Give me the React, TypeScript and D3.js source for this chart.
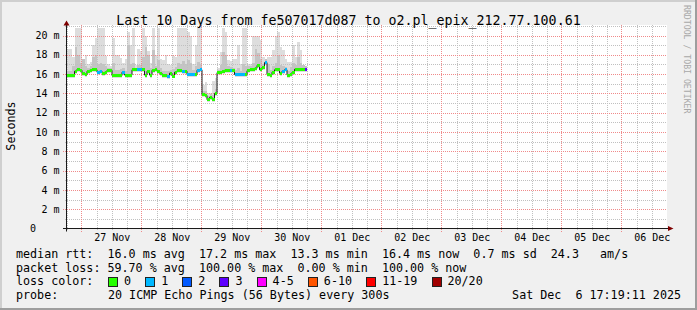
import React from 'react';
import * as d3 from 'd3';

const MONO = '"DejaVu Sans Mono", "Liberation Mono", monospace';

// hourly median RTT (ms) from the start of the 10-day window
const medianRtt = [
  15.88, 15.88, 15.9, 16.3, 16.5, 16.4, 16.1, 15.95, 16.3, 16.4,
  16.5, 16.45, 16.2, 16.3, 16.1, 16.2, 16.4, 16.4, 15.85, 15.85,
  15.85, 15.85, 16.2, 15.9, 15.9, 15.9, 16.45, 16.5, 16.5, 16.5,
  16.45, 15.9, 16.3, 15.9, 16.4, 16.45, 16.3, 16.1, 15.9, 15.9,
  15.75, 16.1, 15.8, 16.2, 16.35, 16.4, 16.25, 16.3, 15.95, 15.95,
  15.95, 15.95, 16.4, 16.45, 13.85, 13.8, 13.35, 13.6, 13.4, 14.0,
  16.15, 16.2, 16.3, 16.4, 16.4, 16.4, 16.35, 15.95, 15.95, 15.95,
  15.95, 15.95, 16.35, 16.45, 16.5, 16.6, 16.9, 16.45, 16.7, 17.2,
  15.95, 15.9, 16.2, 16.45, 16.45, 16.1, 16.3, 16.45, 15.9, 15.95,
  16.2, 16.5, 16.5, 16.5, 16.5, 16.5,
];

// loss category index per hour (into lossColors)
const lossIdx = [
  0, 0, 0, 0, 0, 0, 0, 0, 0, 0,
  0, 0, 1, 1, 0, 0, 0, 0, 0, 0,
  0, 0, 1, 0, 0, 0, 0, 0, 1, 1,
  0, 0, 0, 0, 0, 0, 0, 0, 0, 0,
  1, 0, 0, 0, 0, 0, 1, 0, 1, 1,
  1, 0, 1, 1, 0, 0, 0, 0, 0, 0,
  0, 0, 0, 0, 0, 1, 0, 1, 1, 1,
  1, 0, 0, 0, 0, 0, 0, 0, 0, 1,
  0, 0, 0, 0, 0, 0, 1, 1, 0, 0,
  0, 0, 0, 0, 0, 3,
];

// outer smoke (max ping) per hour
const smokeTop = [
  18.65, 18.65, 17.8, 20.75, 20.75, 20.75, 17.6, 18.0, 17.0, 17.3,
  19.0, 19.7, 20.75, 20.75, 20.75, 17.9, 17.0, 16.8, 19.7, 18.0,
  18.0, 17.7, 17.2, 17.6, 20.4, 19.0, 20.75, 16.9, 18.65, 18.4,
  20.75, 20.0, 18.4, 17.2, 20.75, 18.0, 20.75, 17.6, 17.5, 18.0,
  17.0, 16.9, 17.9, 17.8, 20.75, 20.75, 20.75, 20.75, 20.4, 20.0,
  17.0, 19.0, 20.8, 20.8, 14.9, 15.2, 14.0, 14.0, 15.3, 15.6,
  16.6, 18.3, 20.75, 20.4, 17.5, 17.4, 17.6, 17.6, 19.0, 17.0,
  20.75, 20.75, 17.1, 17.1, 20.0, 20.0, 20.0, 19.5, 17.8, 17.6,
  17.8, 17.8, 18.5, 20.0, 20.4, 18.8, 18.5, 17.6, 17.3, 17.3,
  19.0, 17.8, 19.3, 18.5, 16.8, 16.8,
];

// inner (denser) smoke per hour
const smokeMid = [
  16.3, 16.3, 16.8, 18.8, 18.0, 17.2, 17.6, 16.8, 16.6, 16.8,
  17.8, 18.0, 17.0, 17.2, 17.0, 16.8, 16.6, 16.6, 17.2, 16.4,
  16.4, 16.5, 16.6, 16.3, 19.0, 17.0, 17.2, 16.4, 16.9, 16.9,
  17.8, 18.8, 18.0, 16.6, 18.5, 16.8, 17.5, 16.6, 16.3, 16.3,
  16.3, 16.4, 16.5, 16.7, 17.2, 17.0, 17.4, 17.0, 17.5, 17.2,
  16.4, 16.8, 17.3, 17.0, 14.3, 14.2, 13.7, 13.9, 13.8, 14.5,
  16.4, 16.9, 18.3, 18.0, 16.8, 16.7, 16.6, 16.4, 16.6, 16.3,
  17.0, 16.8, 16.8, 16.8, 17.2, 18.6, 18.2, 17.6, 17.0, 17.6,
  17.0, 16.4, 16.8, 17.2, 18.0, 16.9, 16.8, 16.7, 16.3, 16.7,
  17.2, 16.9, 17.8, 17.2, 16.9, 16.8,
];

const lossColors = ['#26ff00', '#00b8ff', '#0059ff', '#5e00ff', '#ff00ff', '#ff5500', '#ff0000', '#a00000'];
const lossLabels = ['0', '1', '2', '3', '4-5', '6-10', '11-19', '20/20'];
const dayLabels = ['27 Nov', '28 Nov', '29 Nov', '30 Nov', '01 Dec', '02 Dec', '03 Dec', '04 Dec', '05 Dec', '06 Dec'];
const yTickValues = [0, 2, 4, 6, 8, 10, 12, 14, 16, 18, 20];

const titleText = 'Last 10 Days from fe507017d087 to o2.pl_epix_212.77.100.61';
const rttStats = ['16.0 ms avg', '17.2 ms max', '13.3 ms min', '16.4 ms now', '0.7 ms sd', '24.3   am/s'];
const lossStats = ['59.70 % avg', '100.00 % max', '0.00 % min', '100.00 % now'];
const probeText = '20 ICMP Echo Pings (56 Bytes) every 300s';
const stampText = 'Sat Dec  6 17:19:11 2025';

export default function App() {
  const W = 697, H = 310;
  const left = 67, right = 667, top = 25, bottom = 228.5;
  const h0 = 17.88; // window start, hours after 26 Nov 00:00
  const x = d3.scaleLinear().domain([h0, h0 + 240]).range([left, right]);
  const y = d3.scaleLinear().domain([0, 21.05]).range([bottom, 25.4]);
  const cw = 7.05;

  const minorH = d3.range(1, 22, 2);
  const majorH = d3.range(2, 21, 2);
  const majorV = d3.range(1, 11).map((k) => 24 * k);
  const minorV = d3.range(18, h0 + 240, 6).filter((h) => h >= h0 && h % 24 !== 0);

  const steps = medianRtt.map((m, i) => ({ i, m, t: h0 + i }));
  const linePts: [number, number][] = steps.map((s) => [x(s.t), y(s.m)]);
  linePts.push([x(h0 + medianRtt.length), y(medianRtt[medianRtt.length - 1])]);
  const medianPath = d3.line().curve(d3.curveStepAfter)(linePts) || '';

  let bx = 108;
  const legendItems = lossLabels.map((lab, i) => {
    const item = { lab, color: lossColors[i], x: bx };
    bx = bx + 16 + lab.length * cw + 2 * cw;
    return item;
  });

  const rttLine = 'median rtt:  ' + rttStats.join('  ');
  const lossLine = 'packet loss: ' + lossStats.join('  ');
  const pre = { whiteSpace: 'pre' as const };

  return (
    <svg width={W} height={H} style={{ position: 'absolute', left: 0, top: 0 }} fontFamily={MONO}>
      <rect x={0} y={0} width={W} height={H} fill="#f0f0f0" />
      <rect x={0} y={0} width={W} height={2} fill="#cfcfcf" />
      <rect x={0} y={0} width={2} height={H} fill="#cfcfcf" />
      <rect x={W - 2} y={0} width={2} height={H} fill="#9e9e9e" />
      <rect x={0} y={H - 2} width={W} height={2} fill="#9e9e9e" />

      <rect x={left} y={top} width={right - left} height={bottom - top} fill="#ffffff" />

      <g shapeRendering="crispEdges">
        {steps.map((s) => (
          <rect key={'st' + s.i} x={x(s.t)} width={x(s.t + 1) - x(s.t)} y={y(smokeTop[s.i])}
            height={y(s.m - 0.25) - y(smokeTop[s.i])} fill="#dddddd" />
        ))}
        {steps.map((s) => (
          <rect key={'sm' + s.i} x={x(s.t)} width={x(s.t + 1) - x(s.t)} y={y(smokeMid[s.i])}
            height={y(s.m - 0.12) - y(smokeMid[s.i])} fill="#c4c4c4" />
        ))}
      </g>

      <g shapeRendering="crispEdges" strokeDasharray="1,1">
        {minorH.map((v) => (
          <line key={'mh' + v} x1={left - 2} x2={right} y1={Math.round(y(v)) + 0.5} y2={Math.round(y(v)) + 0.5}
            stroke="#c0c0c0" />
        ))}
        {minorV.map((h) => (
          <line key={'mv' + h} x1={Math.round(x(h)) + 0.5} x2={Math.round(x(h)) + 0.5} y1={top} y2={bottom + 2}
            stroke="#c0c0c0" />
        ))}
        {majorH.map((v) => (
          <line key={'Mh' + v} x1={left - 4} x2={right} y1={Math.round(y(v)) + 0.5} y2={Math.round(y(v)) + 0.5}
            stroke="#f08a8a" />
        ))}
        {majorV.map((h) => (
          <line key={'Mv' + h} x1={Math.round(x(h)) - 0.5} x2={Math.round(x(h)) - 0.5} y1={top} y2={bottom + 3}
            stroke="#f08a8a" />
        ))}
      </g>

      <path d={medianPath} fill="none" stroke="#202020" strokeWidth={1} />
      <g shapeRendering="crispEdges">
        {steps.map((s) => (
          <rect key={'mb' + s.i} x={x(s.t)} width={x(s.t + 1) - x(s.t)} y={y(s.m) - 1.5} height={3}
            fill={lossColors[lossIdx[s.i]]} />
        ))}
      </g>

      <line x1={left - 4} x2={right + 4} y1={bottom} y2={bottom} stroke="#1a1a1a" />
      <line x1={left - 0.5} x2={left - 0.5} y1={top - 3} y2={bottom + 3} stroke="#1a1a1a" />
      <polygon points={`${left - 3.5},${top + 0.5} ${left + 2.5},${top + 0.5} ${left - 0.5},${top - 4.5}`} fill="#7f0000" />
      <polygon points={`${right + 1},${bottom - 2.5} ${right + 1},${bottom + 2.5} ${right + 6.5},${bottom}`} fill="#7f0000" />

      <g fontSize={10} fill="#000">
        {yTickValues.map((v) => (
          <text key={'yl' + v} x={v === 0 ? 36 : 59.5} y={y(v)} dy="0.36em" textAnchor="end" xmlSpace="preserve" style={pre}>
            {v === 0 ? '0' : `${v} m`}
          </text>
        ))}
        {dayLabels.map((lab, k) => (
          <text key={'xl' + k} x={x(36 + 24 * k)} y={241} textAnchor="middle" xmlSpace="preserve" style={pre}>
            {lab}
          </text>
        ))}
      </g>

      <text x={348.5} y={24.5} fontSize={13.3} textAnchor="middle" fill="#000" xmlSpace="preserve" style={pre}>
        {titleText}
      </text>

      <text transform="translate(15,126) rotate(-90)" fontSize={11.7} textAnchor="middle" fill="#000">Seconds</text>

      <text transform="translate(683.5,5) rotate(90)" fontSize={8.2} fill="#a8a8a8" xmlSpace="preserve" style={pre}>
        RRDTOOL / TOBI OETIKER
      </text>

      <g fontSize={11.7} fill="#000">
        <text x={16} y={258} xmlSpace="preserve" style={pre}>{rttLine}</text>
        <text x={16} y={271.5} xmlSpace="preserve" style={pre}>{lossLine}</text>
        <text x={16} y={285} xmlSpace="preserve" style={pre}>loss color:</text>
        {legendItems.map((it) => (
          <g key={'lg' + it.lab}>
            <rect x={it.x + 0.5} y={277.5} width={9} height={9} fill={it.color} stroke="#222" strokeWidth={1} shapeRendering="crispEdges" />
            <text x={it.x + 16} y={285} xmlSpace="preserve" style={pre}>{it.lab}</text>
          </g>
        ))}
        <text x={16} y={299} xmlSpace="preserve" style={pre}>probe:</text>
        <text x={108} y={299} xmlSpace="preserve" style={pre}>{probeText}</text>
        <text x={681} y={299} textAnchor="end" xmlSpace="preserve" style={pre}>{stampText}</text>
      </g>
    </svg>
  );
}
